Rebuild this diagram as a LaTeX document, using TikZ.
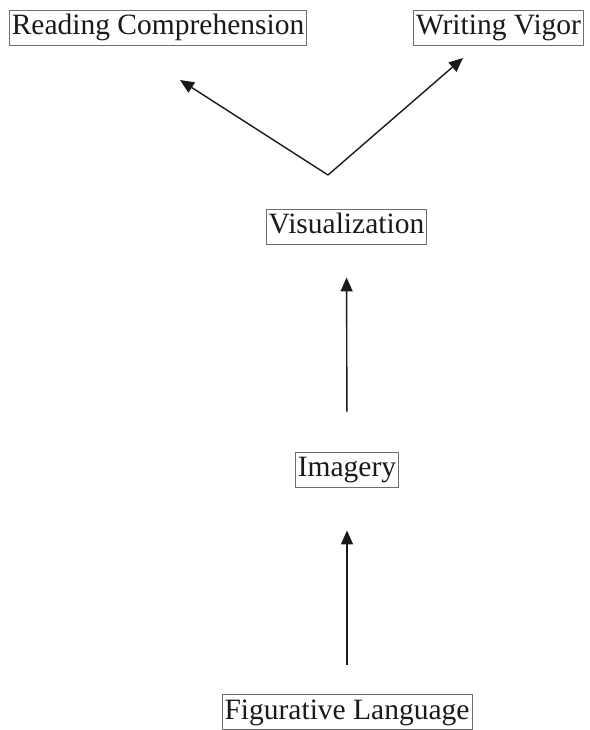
\documentclass[tikz,border=0pt]{standalone}
\usepackage{fontspec}
\setmainfont{Liberation Serif}
\usepackage{xcolor}
\definecolor{boxline}{HTML}{6E6E6E}
\definecolor{inkdark}{HTML}{1A1A1A}
\usetikzlibrary{positioning, arrows.meta, calc}
\tikzset{
  >={Triangle[length=14pt, width=12pt]},
  every node/.style={font=\fontsize{29.5}{34}\selectfont, text=inkdark},
  concept/.style={
    rectangle, draw=boxline, line width=0.9pt, fill=white,
    inner xsep=2.5pt, inner ysep=3.5pt, text height=21pt, text depth=7pt
  },
  link/.style={->, inkdark, line width=1.4pt}
}

\begin{document}
\begin{tikzpicture}[x=1pt, y=-1pt]

\useasboundingbox (0,0) rectangle (589,730);

% Column / row positions (reference pixels)
\def\xmid{347}
\def\yrc{27.5}
\def\yvis{226.5}
\def\yim{469.5}
\def\yfl{712}

% Concepts
\node[concept] (rc)  at (158, \yrc)     {Reading Comprehension};
\node[concept] (wv)  at (498.5, \yrc)   {Writing Vigor};
\node[concept] (vis) at (346.5, \yvis)  {Visualization};
\node[concept] (im)  at (\xmid, \yim)   {Imagery};
\node[concept] (fl)  at (\xmid, \yfl)   {Figurative Language};

% Fork below the two outcomes
\coordinate (fork)  at (328, 175);
\coordinate (rctip) at (180, 80);
\coordinate (wvtip) at (463, 58);

% Upward chain
\draw[link, shorten <=29pt, shorten >=43pt] (fl.north) -- (im.south);
\draw[link, shorten <=40pt, shorten >=33pt] (im.north) -- (vis.south);

% Split into the two outcomes
\draw[link] (fork) -- (rctip);
\draw[link] (fork) -- (wvtip);

\end{tikzpicture}
\end{document}
